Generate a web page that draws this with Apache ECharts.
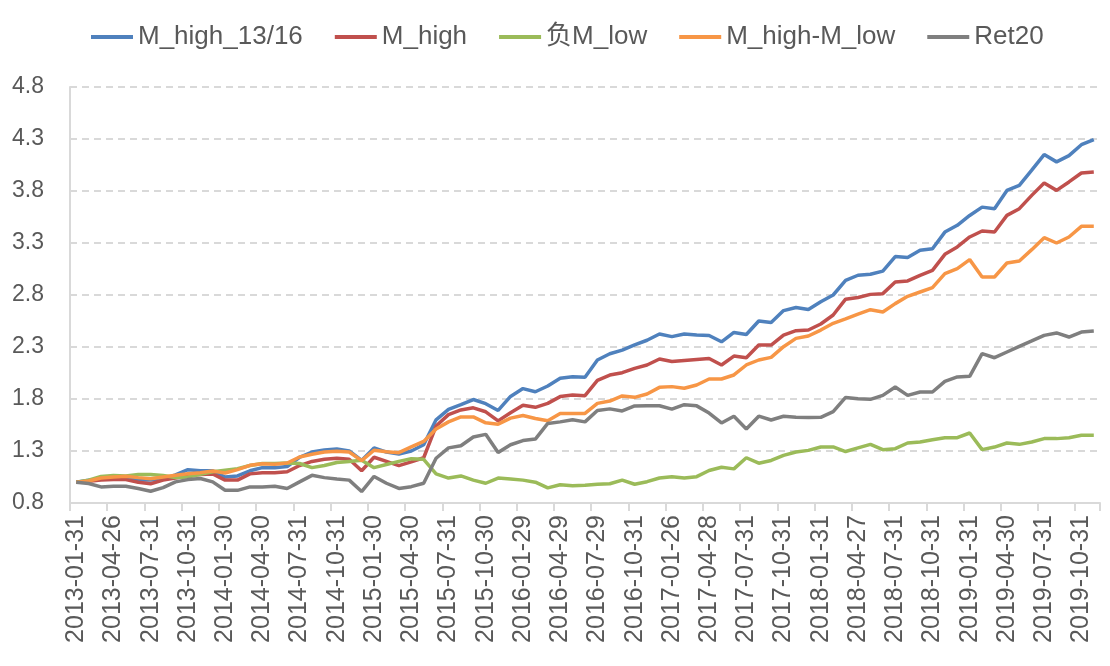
<!DOCTYPE html>
<html>
<head>
<meta charset="utf-8">
<script src="https://cdn.jsdelivr.net/npm/echarts@6/dist/echarts.min.js"></script>
<style>
html,body{margin:0;padding:0;background:#fff;}
#chart{width:1110px;height:666px;}
</style>
</head>
<body>
<div id="chart"></div>
<script>
const dates = [
'2013-01-31','2013-02-28','2013-03-29','2013-04-26','2013-05-31','2013-06-28','2013-07-31','2013-08-30','2013-09-30','2013-10-31','2013-11-29','2013-12-31',
'2014-01-30','2014-02-28','2014-03-31','2014-04-30','2014-05-30','2014-06-30','2014-07-31','2014-08-29','2014-09-30','2014-10-31','2014-11-28','2014-12-31',
'2015-01-30','2015-02-27','2015-03-31','2015-04-30','2015-05-29','2015-06-30','2015-07-31','2015-08-31','2015-09-30','2015-10-30','2015-11-30','2015-12-31',
'2016-01-29','2016-02-29','2016-03-31','2016-04-29','2016-05-31','2016-06-30','2016-07-29','2016-08-31','2016-09-30','2016-10-31','2016-11-30','2016-12-30',
'2017-01-26','2017-02-28','2017-03-31','2017-04-28','2017-05-31','2017-06-30','2017-07-31','2017-08-31','2017-09-29','2017-10-31','2017-11-30','2017-12-29',
'2018-01-31','2018-02-28','2018-03-30','2018-04-27','2018-05-31','2018-06-29','2018-07-31','2018-08-31','2018-09-28','2018-10-31','2018-11-30','2018-12-28',
'2019-01-31','2019-02-28','2019-03-29','2019-04-30','2019-05-31','2019-06-28','2019-07-31','2019-08-30','2019-09-30','2019-10-31','2019-11-29'
];

const seriesNames = ['M_high_13/16','M_high','负M_low','M_high-M_low','Ret20'];

const mHigh1316 = [
1.00,1.02,1.03,1.03,1.03,1.02,1.02,1.03,1.07,1.12,1.11,1.11,
1.05,1.06,1.11,1.14,1.14,1.15,1.24,1.29,1.31,1.32,1.30,1.21,
1.33,1.29,1.27,1.30,1.36,1.60,1.70,1.745,1.795,1.755,1.69,1.825,
1.90,1.87,1.925,2.00,2.015,2.01,2.175,2.235,2.27,2.32,2.365,2.425,
2.40,2.425,2.415,2.41,2.35,2.44,2.42,2.55,2.535,2.65,2.68,2.66,
2.735,2.80,2.94,2.99,3.00,3.03,3.17,3.16,3.23,3.245,3.405,3.47,
3.565,3.645,3.63,3.805,3.855,4.00,4.15,4.08,4.14,4.245,4.295
];
const mHigh = [
1.00,1.01,1.02,1.025,1.025,1.00,0.985,1.02,1.04,1.065,1.075,1.08,
1.02,1.02,1.08,1.09,1.09,1.10,1.16,1.20,1.22,1.23,1.22,1.11,
1.24,1.20,1.16,1.195,1.235,1.54,1.65,1.695,1.715,1.677,1.59,1.668,
1.74,1.72,1.758,1.823,1.839,1.832,1.98,2.03,2.053,2.095,2.127,2.185,
2.16,2.17,2.18,2.19,2.127,2.213,2.197,2.319,2.319,2.415,2.457,2.463,
2.521,2.608,2.76,2.776,2.806,2.813,2.925,2.935,2.989,3.037,3.191,3.262,
3.358,3.415,3.406,3.566,3.63,3.758,3.877,3.806,3.887,3.973,3.983
];
const negMLow = [
1.00,1.02,1.055,1.065,1.06,1.075,1.075,1.065,1.045,1.05,1.075,1.10,
1.115,1.13,1.16,1.18,1.18,1.185,1.18,1.14,1.16,1.19,1.20,1.21,
1.14,1.17,1.20,1.225,1.22,1.08,1.04,1.06,1.02,0.99,1.04,1.03,
1.02,1.00,0.945,0.975,0.965,0.97,0.98,0.985,1.02,0.98,1.005,1.04,
1.053,1.04,1.053,1.112,1.144,1.128,1.235,1.183,1.209,1.258,1.29,1.306,
1.339,1.339,1.295,1.33,1.364,1.313,1.322,1.377,1.387,1.409,1.428,1.428,
1.473,1.313,1.338,1.377,1.364,1.387,1.419,1.419,1.428,1.451,1.451
];
const mHighMinusLow = [
1.00,1.012,1.04,1.05,1.057,1.044,1.034,1.05,1.066,1.082,1.092,1.108,
1.089,1.121,1.162,1.178,1.172,1.185,1.242,1.268,1.29,1.297,1.29,1.208,
1.307,1.293,1.284,1.339,1.392,1.512,1.58,1.628,1.628,1.571,1.558,1.616,
1.641,1.613,1.59,1.661,1.661,1.661,1.758,1.78,1.829,1.816,1.848,1.912,
1.919,1.903,1.935,1.992,1.992,2.031,2.127,2.175,2.20,2.303,2.383,2.406,
2.463,2.528,2.57,2.617,2.659,2.636,2.717,2.787,2.829,2.871,3.005,3.053,
3.14,2.973,2.973,3.108,3.127,3.236,3.351,3.30,3.358,3.46,3.46
];
const ret20 = [
1.00,0.987,0.955,0.961,0.961,0.939,0.913,0.948,1.003,1.025,1.035,1.003,
0.922,0.922,0.955,0.955,0.961,0.939,1.003,1.066,1.044,1.03,1.02,0.91,
1.055,0.99,0.94,0.957,0.99,1.23,1.33,1.35,1.435,1.46,1.285,1.36,
1.40,1.415,1.565,1.58,1.60,1.58,1.69,1.705,1.685,1.733,1.735,1.735,
1.703,1.745,1.734,1.665,1.57,1.634,1.512,1.635,1.598,1.634,1.625,1.622,
1.624,1.678,1.815,1.803,1.797,1.835,1.915,1.835,1.867,1.867,1.97,2.012,
2.018,2.236,2.197,2.252,2.306,2.358,2.412,2.435,2.396,2.444,2.454
];

const colors = ['#4f81bd','#c0504d','#9bbb59','#f79646','#7f7f7f'];
const allData = [mHigh1316, mHigh, negMLow, mHighMinusLow, ret20];

const chart = echarts.init(document.getElementById('chart'), null, {renderer:'canvas'});
const FONT = '"Liberation Sans", Arial, "Noto Sans CJK SC", sans-serif';
chart.setOption({
  animation: false,
  backgroundColor: '#fff',
  color: colors,
  legend: {
    top: 19,
    left: 86,
    icon: 'rect',
    itemWidth: 42,
    itemHeight: 4,
    itemGap: 32,
    textStyle: {fontFamily: FONT, fontSize: 26, color: '#595959'},
    data: seriesNames
  },
  grid: {left: 70, right: 10, top: 87, bottom: 163, containLabel: false},
  xAxis: {
    type: 'category',
    data: dates,
    boundaryGap: true,
    axisLine: {lineStyle: {color: '#d9d9d9', width: 2}},
    axisTick: {show: true, interval: 2, length: 8, lineStyle: {color: '#d9d9d9', width: 2}},
    axisLabel: {interval: 2, rotate: 90, fontFamily: FONT, fontSize: 25, color: '#595959', margin: 12},
    splitLine: {show: false}
  },
  yAxis: {
    type: 'value',
    min: 0.8,
    max: 4.8,
    interval: 0.5,
    axisLine: {show: true, lineStyle: {color: '#d9d9d9', width: 2}},
    axisTick: {show: false},
    axisLabel: {fontFamily: FONT, fontSize: 23, color: '#595959', margin: 26,
      formatter: v => v.toFixed(1)},
    splitLine: {show: true, lineStyle: {color: '#d9d9d9', width: 2, type: [7, 5]}}
  },
  series: seriesNames.map((n, k) => ({
    name: n,
    type: 'line',
    data: allData[k],
    symbol: 'none',
    smooth: false,
    lineStyle: {width: 3.5, color: colors[k]},
    itemStyle: {color: colors[k]}
  }))
});
</script>
</body>
</html>
